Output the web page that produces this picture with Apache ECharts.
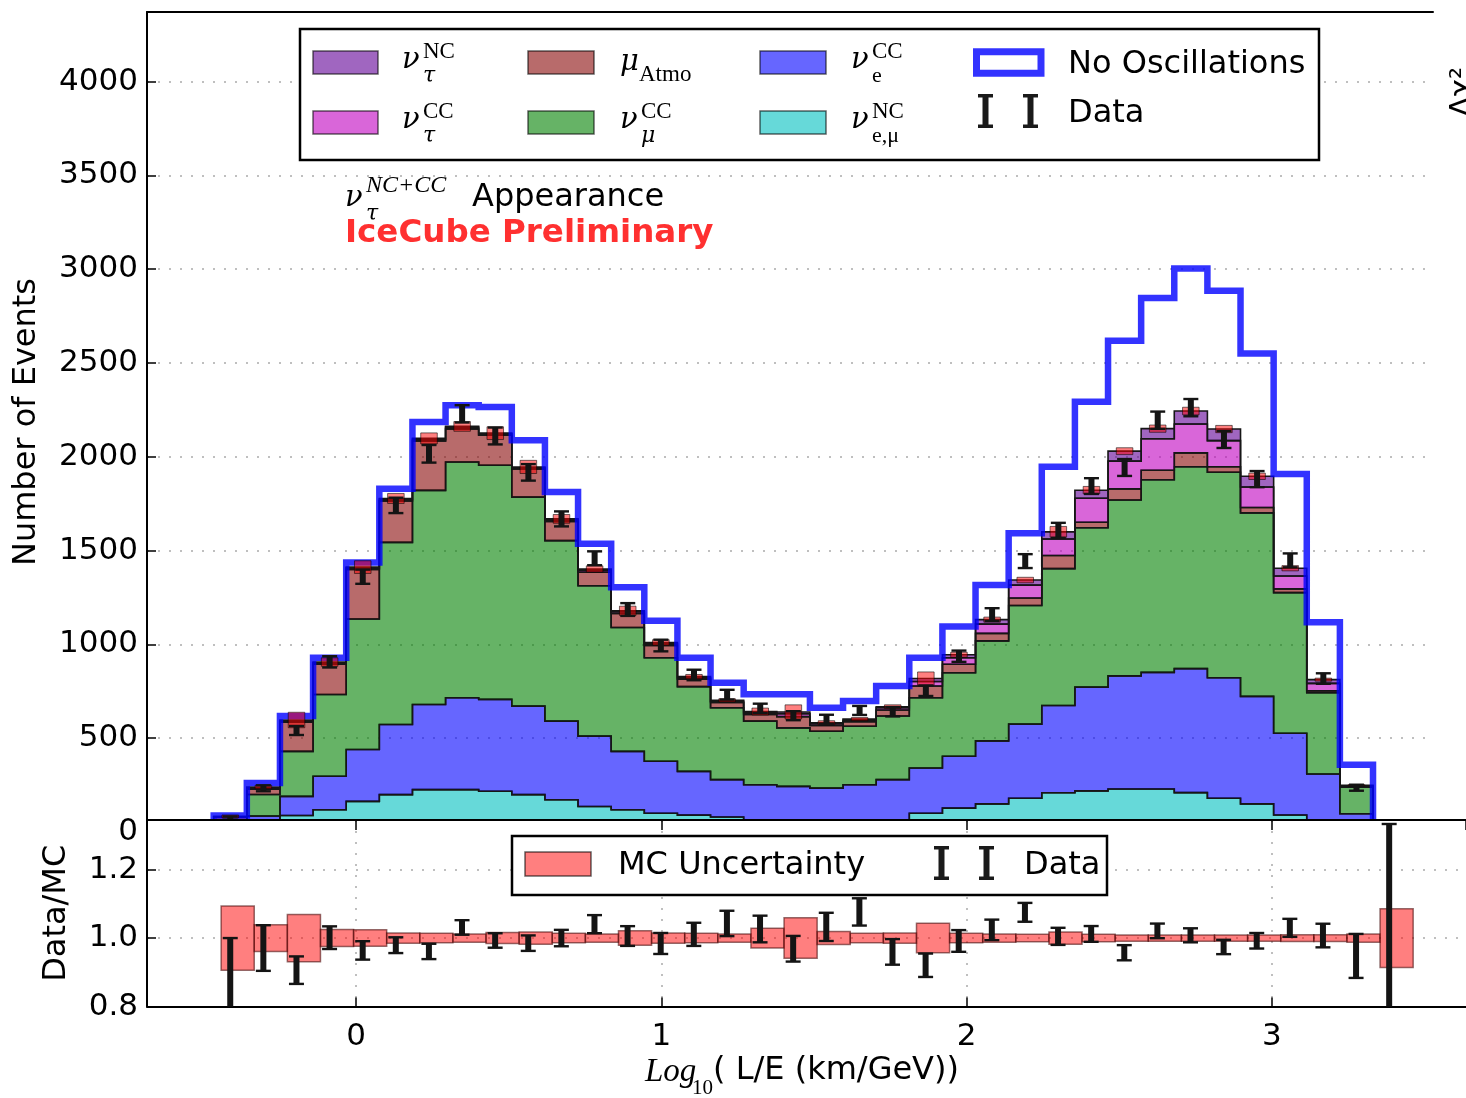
<!DOCTYPE html>
<html>
<head>
<meta charset="utf-8">
<script src="https://cdn.jsdelivr.net/npm/echarts@6/dist/echarts.min.js"></script>
<style>
  html, body { margin: 0; padding: 0; background: #fff; }
  #chart { width: 1466px; height: 1098px; }
</style>
</head>
<body>
<div id="chart"></div>
<script>
// Bin edges in log10(L/E [km/GeV]) — 36 bins
const binEdges = [-0.467, -0.3585, -0.25, -0.1415, -0.033, 0.0755, 0.184, 0.2925, 0.401, 0.5095,
  0.618, 0.7265, 0.835, 0.9435, 1.052, 1.1605, 1.269, 1.3775, 1.486, 1.5945, 1.703, 1.8115,
  1.92, 2.0285, 2.137, 2.2455, 2.354, 2.4625, 2.571, 2.6795, 2.788, 2.8965, 3.005, 3.1135,
  3.222, 3.3305, 3.439];

// MC components per bin (events), stacked bottom to top
const nuENuMuNC = [5, 20, 88, 119, 163, 199, 226, 226, 217, 199, 172, 136, 119, 100, 90, 80, 62, 55,
  52, 55, 62, 100, 127, 150, 180, 209, 219, 229, 229, 210, 180, 150, 91, 40, 5, 0];
const nuECC = [20, 65, 102, 178, 277, 374, 454, 490, 490, 472, 419, 375, 311, 277, 233, 199, 190, 188,
  182, 197, 217, 241, 277, 336, 395, 465, 553, 603, 622, 661, 642, 573, 435, 269, 92, 1.5];
const nuMuCC = [35, 115, 240, 436, 695, 971, 1141, 1256, 1248, 1114, 962, 802, 660, 552, 452, 383, 339, 312,
  303, 312, 339, 375, 445, 533, 632, 730, 850, 938, 1027, 1076, 1096, 978, 750, 434, 142, 1.5];
const muAtmo = [20, 28, 155, 162, 265, 221, 264, 176, 160, 150, 102, 72, 75, 66, 40, 28, 36, 60,
  31, 24, 32, 62, 45, 40, 40, 70, 29, 59, 50, 74, 29, 29, 20, 10, 2, 0];
const nuTauCC = [2, 8, 7, 7, 8, 8, 8, 9, 7, 7, 9, 11, 9, 9, 7, 7, 9, 15,
  9, 8, 12, 24, 35, 49, 69, 88, 128, 148, 168, 154, 139, 109, 69, 39, 5, 1];
const nuTauNC = [1, 4, 5, 4, 4, 5, 5, 5, 4, 4, 5, 6, 5, 6, 6, 5, 6, 10,
  5, 6, 6, 16, 16, 24, 27, 38, 43, 53, 54, 69, 62, 57, 41, 20, 3, 0.5];

// Expectation without oscillations
const noOscillations = [88, 261, 618, 929, 1437, 1830, 2186, 2275, 2265, 2088, 1812, 1536, 1304, 1126, 929, 796, 734, 734,
  662, 698, 778, 929, 1095, 1316, 1592, 1947, 2293, 2619, 2846, 3004, 2885, 2550, 1908, 1118, 358, 10];

// Observed events and their errors
const dataCounts = [74, 233, 541, 907, 1361, 1741, 2016, 2229, 2111, 1917, 1669, 1459, 1186, 994, 837, 732, 659, 620,
  601, 648, 641, 753, 937, 1159, 1444, 1608, 1844, 1943, 2195, 2262, 2092, 1881, 1448, 818, 236, 4];
const dataErrors = [9, 16, 24, 30, 38, 41, 47, 46, 45, 44, 40, 37, 34, 31, 28, 26, 25, 24,
  24, 24, 25, 28, 30, 34, 37, 40, 42, 45, 46, 46, 45, 43, 37, 28, 16, 2];

// Relative MC uncertainty per bin
const mcRelUncertainty = [0.094, 0.039, 0.069, 0.025, 0.024, 0.015, 0.014, 0.012, 0.016, 0.018, 0.014, 0.012,
  0.021, 0.015, 0.014, 0.012, 0.029, 0.059, 0.019, 0.014, 0.015, 0.043, 0.014, 0.012, 0.011, 0.018,
  0.011, 0.009, 0.009, 0.009, 0.009, 0.009, 0.010, 0.010, 0.012, 0.086];

const ratioTicks = ['0.8', '1.0', '1.2'];

// ---------------------------------------------------------------------------
const SANS = 'DejaVu Sans';
const SERIF = 'Liberation Serif';
const GREEK = 'DejaVu Serif';
const nBins = binEdges.length - 1;
const binWidth = binEdges[1] - binEdges[0];
const ratioBoxShift = 0.0244;   // ratio boxes sit slightly right of the histogram bins
const barColor = '#141414';

const layers = [
  { values: nuENuMuNC, fill: 'rgba(0,191,191,0.6)' },
  { values: nuECC, fill: 'rgba(0,0,255,0.6)' },
  { values: nuMuCC, fill: 'rgba(0,128,0,0.6)' },
  { values: muAtmo, fill: 'rgba(137,8,8,0.6)' },
  { values: nuTauCC, fill: 'rgba(191,0,191,0.6)' },
  { values: nuTauNC, fill: 'rgba(97,0,150,0.6)' }
];

const cumulative = new Array(nBins).fill(0);
const layerSeries = layers.map(function (layer) {
  const items = layer.values.map(function (v, i) {
    const lo = cumulative[i];
    const hi = lo + v;
    cumulative[i] = hi;
    return [binEdges[i], binEdges[i + 1], lo, hi];
  });
  return {
    type: 'custom', xAxisIndex: 0, yAxisIndex: 0, z: 2,
    data: items,
    encode: { x: [0, 1], y: [2, 3] },
    renderItem: function (params, api) {
      if (params.dataIndexInside !== 0) return null;
      const n = params.dataInsideLength;
      const top = [], bottom = [];
      for (let i = 0; i < n; i++) {
        const x0 = api.value(0, i), x1 = api.value(1, i);
        const lo = api.value(2, i), hi = api.value(3, i);
        top.push(api.coord([x0, hi]), api.coord([x1, hi]));
        bottom.unshift(api.coord([x1, lo]), api.coord([x0, lo]));
      }
      return {
        type: 'polygon',
        shape: { points: top.concat(bottom) },
        style: { fill: layer.fill, stroke: '#161616', lineWidth: 1.6, lineJoin: 'miter' }
      };
    }
  };
});
const mcTotal = cumulative.slice();
const binCenters = mcTotal.map(function (_, i) { return (binEdges[i] + binEdges[i + 1]) / 2; });

function clipToGrid(rect, cs) {
  return echarts.graphic.clipRectByRect(rect, { x: cs.x, y: cs.y, width: cs.width, height: cs.height });
}

function errorBarRender(params, api) {
  const x = api.value(0), v = api.value(1), e = api.value(2);
  const pt = api.coord([x, v + e]);
  const pb = api.coord([x, v - e]);
  const cs = params.coordSys;
  const children = [];
  const stem = clipToGrid({ x: pt[0] - 3, y: pt[1], width: 6, height: pb[1] - pt[1] }, cs);
  if (stem) children.push({ type: 'rect', shape: stem, style: { fill: barColor } });
  if (pt[1] >= cs.y) children.push({ type: 'rect', shape: { x: pt[0] - 7.5, y: pt[1] - 1.2, width: 15, height: 2.4 }, style: { fill: barColor } });
  if (pb[1] <= cs.y + cs.height) children.push({ type: 'rect', shape: { x: pb[0] - 7.5, y: pb[1] - 1.2, width: 15, height: 2.4 }, style: { fill: barColor } });
  return { type: 'group', children: children };
}

const noOscSeries = {
  type: 'custom', xAxisIndex: 0, yAxisIndex: 0, z: 3,
  data: noOscillations.map(function (v, i) { return [binEdges[i], binEdges[i + 1], v]; }),
  encode: { x: [0, 1], y: 2 },
  renderItem: function (params, api) {
    if (params.dataIndexInside !== 0) return null;
    const n = params.dataInsideLength;
    const pts = [api.coord([api.value(0, 0), 0])];
    for (let i = 0; i < n; i++) {
      const v = api.value(2, i);
      pts.push(api.coord([api.value(0, i), v]), api.coord([api.value(1, i), v]));
    }
    pts.push(api.coord([api.value(1, n - 1), 0]));
    return {
      type: 'polyline', shape: { points: pts },
      style: { stroke: 'rgba(0,0,255,0.8)', lineWidth: 6.5, fill: null, lineJoin: 'miter' }
    };
  }
};

const mcBandSeries = {
  type: 'custom', xAxisIndex: 0, yAxisIndex: 0, z: 4,
  data: mcTotal.map(function (t, i) { return [binCenters[i], t, mcRelUncertainty[i]]; }),
  encode: { x: 0, y: 1 },
  renderItem: function (params, api) {
    const c = api.value(0), t = api.value(1), f = api.value(2);
    const p0 = api.coord([c - binWidth / 4, t * (1 + f)]);
    const p1 = api.coord([c + binWidth / 4, t * (1 - f)]);
    return {
      type: 'rect',
      shape: { x: p0[0], y: p0[1], width: p1[0] - p0[0], height: p1[1] - p0[1] },
      style: { fill: 'rgba(255,0,0,0.5)', stroke: 'rgba(0,0,0,0.55)', lineWidth: 1 }
    };
  }
};

const dataSeries = {
  type: 'custom', xAxisIndex: 0, yAxisIndex: 0, z: 5,
  data: dataCounts.map(function (d, i) { return [binCenters[i], d, dataErrors[i]]; }),
  encode: { x: 0, y: 1 },
  renderItem: errorBarRender
};

const ratioBoxSeries = {
  type: 'custom', xAxisIndex: 1, yAxisIndex: 1, z: 32,
  data: mcRelUncertainty.map(function (f, i) { return [binEdges[i] + ratioBoxShift, binEdges[i + 1] + ratioBoxShift, f]; }),
  encode: { x: [0, 1], y: 2 },
  renderItem: function (params, api) {
    const x0 = api.value(0), x1 = api.value(1), f = api.value(2);
    const p0 = api.coord([x0, 1 + f]);
    const p1 = api.coord([x1, 1 - f]);
    const r = clipToGrid({ x: p0[0], y: p0[1], width: p1[0] - p0[0], height: p1[1] - p0[1] }, params.coordSys);
    if (!r) return null;
    return { type: 'rect', shape: r, style: { fill: 'rgba(255,0,0,0.5)', stroke: 'rgba(60,0,0,0.55)', lineWidth: 1.5 } };
  }
};

const ratioDataSeries = {
  type: 'custom', xAxisIndex: 1, yAxisIndex: 1, z: 33,
  data: dataCounts.map(function (d, i) { return [binCenters[i], d / mcTotal[i], dataErrors[i] / mcTotal[i]]; }),
  encode: { x: 0, y: 1 },
  renderItem: errorBarRender
};

// ---------------------------------------------------------------------------
// Legend, annotations and math labels
function label(x, y, text, size, opt) {
  opt = opt || {};
  return {
    type: 'text', x: x, y: y, z: 60, rotation: opt.rotation || 0,
    style: {
      text: text, fontSize: size, fontFamily: opt.family || SANS,
      fontStyle: opt.italic ? 'italic' : 'normal', fontWeight: opt.bold ? 'bold' : 'normal',
      fill: opt.color || '#000', align: opt.align || 'left', verticalAlign: 'middle',
      textAlign: opt.align || 'left', textVerticalAlign: 'middle'
    }
  };
}
function patch(x, y, w, h, fill) {
  return { type: 'rect', z: 58, shape: { x: x, y: y, width: w, height: h }, style: { fill: fill, stroke: 'rgba(0,0,0,0.6)', lineWidth: 1.5 } };
}
function errGlyph(cx, y0, y1) {
  return [
    { type: 'rect', z: 58, shape: { x: cx - 3, y: y0, width: 6, height: y1 - y0 }, style: { fill: '#1a1a1a' } },
    { type: 'rect', z: 58, shape: { x: cx - 7.5, y: y0, width: 15, height: 3.5 }, style: { fill: '#1a1a1a' } },
    { type: 'rect', z: 58, shape: { x: cx - 7.5, y: y1 - 3.5, width: 15, height: 3.5 }, style: { fill: '#1a1a1a' } }
  ];
}
function nuSymbol(x, yMid, sup, sub, opt) {
  opt = opt || {};
  const out = [label(x, yMid, opt.base || 'ν', 29, { family: GREEK, italic: true })];
  if (sup) out.push(label(x + 21, yMid - (opt.supRise || 8), sup, opt.supSize || 23, { family: SERIF, italic: !!opt.supItalic }));
  if (sub) out.push(label(x + 21, yMid + 16, sub, 22, { family: sub === 'τ' || sub === 'μ' ? GREEK : SERIF, italic: !!opt.subItalic }));
  return out;
}

let graphics = [];
// white strip hiding the bottom edge of the upper panel behind the ratio panel
graphics.push({ type: 'rect', z: 20, shape: { x: 148, y: 821, width: 1318, height: 14 }, style: { fill: '#fff' } });

// upper legend
graphics.push({ type: 'rect', z: 55, shape: { x: 300, y: 29, width: 1019, height: 131 }, style: { fill: '#fff', stroke: '#000', lineWidth: 2.5 } });
graphics.push(patch(313, 51, 65, 23, layers[5].fill));
graphics.push(patch(313, 111, 65, 23, layers[4].fill));
graphics.push(patch(528, 51, 66, 23, layers[3].fill));
graphics.push(patch(528, 111, 66, 23, layers[2].fill));
graphics.push(patch(760, 51, 66, 23, layers[1].fill));
graphics.push(patch(760, 111, 66, 23, layers[0].fill));
graphics = graphics.concat(nuSymbol(402, 60, 'NC', 'τ', { subItalic: true }));
graphics = graphics.concat(nuSymbol(402, 120, 'CC', 'τ', { subItalic: true }));
graphics.push(label(620, 62, 'μ', 29, { family: GREEK, italic: true }));
graphics.push(label(639, 75, 'Atmo', 23, { family: SERIF }));
graphics = graphics.concat(nuSymbol(620, 120, 'CC', 'μ', { subItalic: true }));
graphics = graphics.concat(nuSymbol(851, 60, 'CC', 'e'));
graphics = graphics.concat(nuSymbol(851, 120, 'NC', 'e,μ'));
graphics.push({ type: 'rect', z: 58, shape: { x: 976.5, y: 51.8, width: 64.5, height: 21.5 }, style: { fill: '#fff', stroke: 'rgba(0,0,255,0.8)', lineWidth: 7 } });
graphics.push(label(1068, 65, 'No Oscillations', 32));
graphics = graphics.concat(errGlyph(985.5, 94, 128), errGlyph(1030.5, 94, 128));
graphics.push(label(1068, 114, 'Data', 32));

// annotations
graphics = graphics.concat(nuSymbol(345, 198, 'NC+CC', 'τ', { supItalic: true, subItalic: true, supSize: 24, supRise: 12 }));
graphics.push(label(472, 198, 'Appearance', 32));
graphics.push(label(345, 234, 'IceCube Preliminary', 32.5, { bold: true, color: '#ff3030' }));

// partially visible label at the right edge
graphics.push(label(1463, 92, 'Δχ²', 30, { align: 'center', rotation: Math.PI / 2 }));

// lower legend
graphics.push({ type: 'rect', z: 55, shape: { x: 512, y: 836, width: 595, height: 59 }, style: { fill: '#fff', stroke: '#000', lineWidth: 2.5 } });
graphics.push(patch(525, 852, 66, 24, 'rgba(255,0,0,0.5)'));
graphics.push(label(618, 866, 'MC Uncertainty', 32));
graphics = graphics.concat(errGlyph(941.5, 846, 880), errGlyph(986.5, 846, 880));
graphics.push(label(1024, 866, 'Data', 32));

// x-axis title
graphics.push(label(645, 1072, 'Log', 33, { family: SERIF, italic: true }));
graphics.push(label(692, 1088, '10', 21, { family: SERIF }));
graphics.push(label(713, 1071, '( L/E (km/GeV))', 32));

// ---------------------------------------------------------------------------
const axisText = { color: '#000', fontSize: 31, fontFamily: SANS };
const gridDots = { show: true, showMinLine: false, showMaxLine: false, lineStyle: { color: '#aaaaaa', width: 1.5, type: [2, 9] } };
const blackLine = { show: true, onZero: false, lineStyle: { color: '#000', width: 2 } };

const option = {
  animation: false,
  backgroundColor: '#fff',
  textStyle: { fontFamily: SANS },
  grid: [
    { left: 147, right: 33, top: 12, height: 820 },
    { left: 147, right: 0, top: 820, height: 186.5 }
  ],
  xAxis: [
    { type: 'value', gridIndex: 0, position: 'top', min: -0.6855, max: 3.527,
      axisLine: blackLine, axisTick: { show: false }, axisLabel: { show: false }, splitLine: { show: false } },
    { type: 'value', gridIndex: 1, position: 'bottom', min: -0.6855, max: 3.6365, z: 30,
      axisLine: blackLine,
      axisTick: { show: true, inside: true, length: 9, lineStyle: { color: '#000', width: 1.5 } },
      axisLabel: Object.assign({ margin: 15, showMinLabel: false, showMaxLabel: false }, axisText),
      splitLine: gridDots },
    { type: 'value', gridIndex: 1, position: 'top', min: -0.6855, max: 3.6365, z: 30,
      axisLine: blackLine,
      axisTick: { show: true, inside: true, length: 10, lineStyle: { color: '#000', width: 1.5 } },
      axisLabel: { show: false }, splitLine: { show: false } }
  ],
  yAxis: [
    { type: 'value', gridIndex: 0, min: 0, max: 4371, interval: 500,
      name: 'Number of Events', nameLocation: 'middle', nameGap: 104,
      nameTextStyle: { color: '#000', fontSize: 32, fontFamily: SANS },
      axisLine: blackLine,
      axisTick: { show: true, inside: true, length: 9, lineStyle: { color: '#000', width: 1.5 } },
      axisLabel: Object.assign({
        margin: 9, showMaxLabel: false,
        formatter: function (v) { return String(Math.round(v)); }
      }, axisText),
      splitLine: gridDots },
    { type: 'value', gridIndex: 1, min: 0.8, max: 1.345, interval: 0.2, z: 30,
      name: 'Data/MC', nameLocation: 'middle', nameGap: 74,
      nameTextStyle: { color: '#000', fontSize: 32, fontFamily: SANS },
      axisLine: blackLine,
      axisTick: { show: true, inside: true, length: 9, lineStyle: { color: '#000', width: 1.5 } },
      axisLabel: Object.assign({
        margin: 9, showMaxLabel: false,
        formatter: function (v) {
          const s = v.toFixed(1);
          return ratioTicks.indexOf(s) >= 0 ? s : '';
        }
      }, axisText),
      splitLine: gridDots }
  ],
  graphic: graphics,
  series: layerSeries.concat([noOscSeries, mcBandSeries, dataSeries, ratioBoxSeries, ratioDataSeries])
};

const chart = echarts.init(document.getElementById('chart'), null, { renderer: 'canvas' });
chart.setOption(option);
</script>
</body>
</html>
